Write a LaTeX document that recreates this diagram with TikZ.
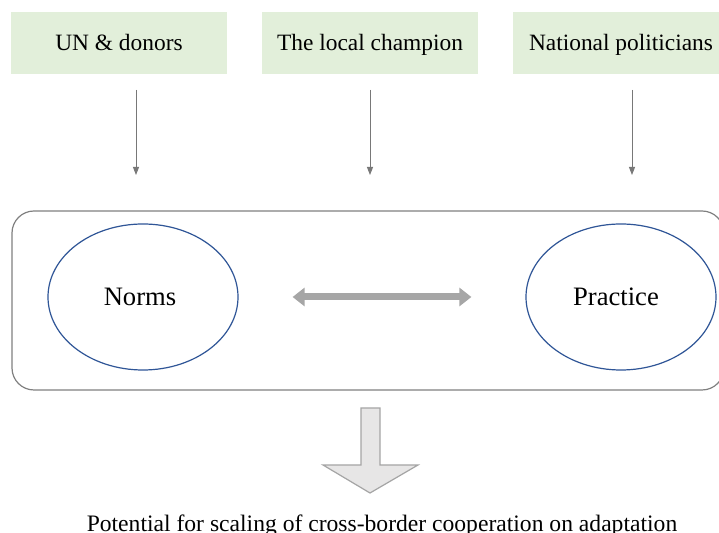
\documentclass[tikz,border=0pt]{standalone}
\usepackage{fontspec}
\setmainfont{Liberation Serif}
\usetikzlibrary{arrows.meta,shapes.geometric}
\definecolor{actorfill}{RGB}{226,239,218}
\definecolor{linkgray}{RGB}{120,120,120}
\definecolor{framegray}{RGB}{128,128,128}
\definecolor{ringblue}{RGB}{47,85,151}
\definecolor{duplexgray}{RGB}{166,166,166}
\definecolor{blockfill}{RGB}{231,230,230}
\definecolor{blockline}{RGB}{165,165,165}
\tikzset{
  actor/.style={fill=actorfill, draw=none, minimum width=108pt, minimum height=31pt,
    inner sep=0pt, text depth=0.8pt, font=\fontsize{11.7}{14}\selectfont},
  ring/.style={ellipse, draw=ringblue, line width=0.6pt, minimum width=95pt,
    minimum height=73pt, inner sep=0pt, font=\fontsize{13.3}{16}\selectfont},
  influence/.style={draw=linkgray, line width=0.5pt, -{Triangle[length=4pt,width=3pt]}},
  duplex/.style={draw=duplexgray, line width=3.5pt,
    {Triangle[length=6pt,width=9pt]}-{Triangle[length=6pt,width=9pt]}},
  arena/.style={draw=framegray, line width=0.6pt, rounded corners=11pt},
  blockarrow/.style={fill=blockfill, draw=blockline, line width=0.6pt},
  outcome/.style={font=\fontsize{11.8}{14}\selectfont, anchor=base, inner sep=0pt}
}
\begin{document}
\begin{tikzpicture}[x=0.5pt, y=-0.5pt]
  \clip (0,0) rectangle (719,533);
  \fill[white] (0,0) rectangle (719,533);

  % actors on top
  \node[actor] (un)    at (119,43) {UN \& donors};
  \node[actor] (champ) at (370,43) {The local champion};
  \node[actor] (pol)   at (621,43) {National politicians};

  % influence arrows
  \coordinate (unS)    at (136,90);  \coordinate (unE)    at (136,175);
  \coordinate (champS) at (370,90);  \coordinate (champE) at (370,175);
  \coordinate (polS)   at (632,90);  \coordinate (polE)   at (632,175);
  \draw[influence] (unS) -- (unE);
  \draw[influence] (champS) -- (champE);
  \draw[influence] (polS) -- (polE);

  % arena holding norms and practice
  \draw[arena] (12,211) rectangle (724,390);
  \node[ring] (norms)    at (143,297) {\hspace*{-3pt}Norms};
  \node[ring] (practice) at (621,297) {\hspace*{-5pt}Practice};
  \draw[duplex, shorten <=27pt, shorten >=27pt] (norms.east) -- (practice.west);

  % block arrow down to the outcome
  \coordinate (tip) at (370,493);
  \draw[blockarrow] (361,408) -- (380,408) -- (380,465) -- (418,465) -- (tip)
    -- (323,465) -- (361,465) -- cycle;

  \node[outcome] (out) at (382,532) {Potential for scaling of cross-border cooperation on adaptation};
\end{tikzpicture}
\end{document}
